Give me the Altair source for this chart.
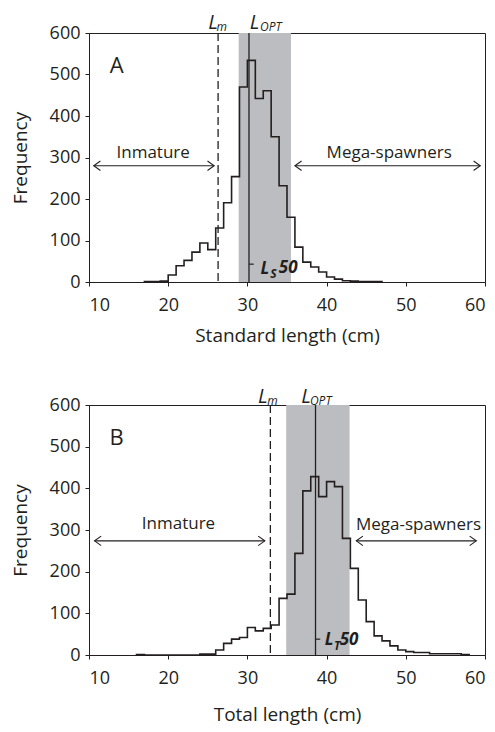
import altair as alt
import pandas as pd

FONT = "Open Sans"
INK = "#231f20"
BAND = "#bcbdc0"

# ---------------- Panel A (standard length, 1-cm bins: left edges) ----------------
A_BIN_START = list(range(17, 47))
A_COUNTS = [1, 1, 2, 17, 39, 52, 72, 94, 78, 130, 191, 254, 470, 534, 442,
            461, 350, 232, 156, 84, 48, 36, 24, 12, 7, 3, 2, 1, 1, 1]
A_LM = 26.3
A_LOPT = 30.2
A_OPT_RANGE = [28.9, 35.5]
A_ARROWS = [[10.6, 25.8, 280], [36.0, 59.4, 280]]
A_ARROW_TEXT = ["Inmature", "Mega-spawners"]
A_ARROW_TEXT_X = [18.1, 47.9]
A_ARROW_TEXT_Y = [298, 298]
A_TOP_TEXT = ["L", "m", "L", "OPT"]
A_TOP_X = [25.06, 26.1, 30.3, 31.6]
A_TOP_Y = [610, 606, 610, 606]
A_L50_TEXT = ["L", "S", "50"]
A_L50_X = [31.65, 32.9, 33.97]
A_L50_Y = [20, 9, 21]
A_L50_TICK = [30.2, 30.8, 43]
A_XTITLE = "Standard length (cm)"

# ---------------- Panel B (total length) ----------------
B_BIN_START = list(range(16, 58))
B_COUNTS = [1, 0, 0, 0, 0, 0, 0, 0, 2, 2, 12, 28, 38, 42, 66, 58, 64, 72,
            136, 146, 244, 394, 428, 380, 416, 404, 280, 208, 132, 80, 46,
            34, 22, 12, 8, 6, 6, 3, 3, 3, 3, 1]
B_LM = 32.9
B_LOPT = 38.6
B_OPT_RANGE = [34.9, 42.9]
B_ARROWS = [[10.7, 32.2, 274], [43.75, 58.9, 274]]
B_ARROW_TEXT = ["Inmature", "Mega-spawners"]
B_ARROW_TEXT_X = [21.3, 51.6]
B_ARROW_TEXT_Y = [302, 300]
B_TOP_TEXT = ["L", "m", "L", "OPT"]
B_TOP_X = [31.35, 32.5, 36.8, 37.9]
B_TOP_Y = [605, 601, 605, 601]
B_L50_TEXT = ["L", "T", "50"]
B_L50_X = [39.76, 40.93, 41.65]
B_L50_Y = [24, 12, 24]
B_L50_TICK = [38.6, 39.2, 38]
B_XTITLE = "Total length (cm)"

X_TICKS = [10, 20, 30, 40, 50, 60]
Y_TICKS = [0, 100, 200, 300, 400, 500, 600]


def panel(letter, starts, counts, lm, lopt, opt_range, arrows, arrow_text,
          arrow_tx, arrow_ty, top_text, top_x, top_y, l50_text, l50_x, l50_y,
          l50_tick, xtitle, height, xtitle_pad):
    xs = alt.Scale(domain=[10, 60], nice=False, zero=False)
    ys = alt.Scale(domain=[0, 600], nice=False)
    xax = alt.Axis(values=X_TICKS, title=xtitle, titlePadding=xtitle_pad)
    yax = alt.Axis(values=Y_TICKS, title="Frequency")

    band = alt.Chart(pd.DataFrame({"a": [opt_range[0]], "b": [opt_range[1]],
                                   "y0": [0], "y1": [600]})).mark_rect(
        color=BAND).encode(
        x=alt.X("a:Q", scale=xs, axis=xax),
        x2="b:Q",
        y=alt.Y("y0:Q", scale=ys, axis=yax),
        y2="y1:Q")

    lm_rule = alt.Chart(pd.DataFrame({"x": [lm]})).mark_rule(
        color=INK, strokeWidth=1.3, strokeDash=[8, 4]).encode(
        x=alt.X("x:Q", scale=xs), y=alt.value(0), y2=alt.value(height))
    lopt_rule = alt.Chart(pd.DataFrame({"x": [lopt]})).mark_rule(
        color=INK, strokeWidth=1.3).encode(
        x=alt.X("x:Q", scale=xs), y=alt.value(0), y2=alt.value(height))

    hx = [starts[0]] + list(starts) + [starts[-1] + 1]
    hy = [0] + list(counts) + [0]
    hist = alt.Chart(pd.DataFrame({"x": hx, "y": hy, "o": range(len(hx))})).mark_line(
        interpolate="step-after", color=INK, strokeWidth=1.6).encode(
        x=alt.X("x:Q", scale=xs), y=alt.Y("y:Q", scale=ys), order="o:Q")

    adf = pd.DataFrame(arrows, columns=["x1", "x2", "y"])
    arrow_line = alt.Chart(adf).mark_rule(color=INK, strokeWidth=1.1).encode(
        x=alt.X("x1:Q", scale=xs), x2="x2:Q", y=alt.Y("y:Q", scale=ys))
    head_l = alt.Chart(adf).mark_point(
        shape="M1.4,-1L0,0L1.4,1", filled=False, size=90, color=INK,
        strokeWidth=1.1, opacity=1).encode(
        x=alt.X("x1:Q", scale=xs), y=alt.Y("y:Q", scale=ys))
    head_r = alt.Chart(adf).mark_point(
        shape="M-1.4,-1L0,0L-1.4,1", filled=False, size=90, color=INK,
        strokeWidth=1.1, opacity=1).encode(
        x=alt.X("x2:Q", scale=xs), y=alt.Y("y:Q", scale=ys))

    atext = alt.Chart(pd.DataFrame({"t": arrow_text, "x": arrow_tx, "y": arrow_ty})).mark_text(
        font=FONT, fontSize=17, color=INK, align="center", baseline="alphabetic").encode(
        x=alt.X("x:Q", scale=xs), y=alt.Y("y:Q", scale=ys), text="t:N")

    letter_t = alt.Chart(pd.DataFrame({"t": [letter], "x": [13.5], "y": [521]})).mark_text(
        font=FONT, fontSize=22, color=INK, align="center", baseline="middle").encode(
        x=alt.X("x:Q", scale=xs), y=alt.Y("y:Q", scale=ys), text="t:N")

    big = alt.Chart(pd.DataFrame({"t": [top_text[0], top_text[2]],
                                  "x": [top_x[0], top_x[2]],
                                  "y": [top_y[0], top_y[2]]})).mark_text(
        font=FONT, fontSize=20, fontStyle="italic", color=INK, align="left",
        baseline="alphabetic").encode(
        x=alt.X("x:Q", scale=xs), y=alt.Y("y:Q", scale=ys), text="t:N")
    small = alt.Chart(pd.DataFrame({"t": [top_text[1], top_text[3]],
                                    "x": [top_x[1], top_x[3]],
                                    "y": [top_y[1], top_y[3]]})).mark_text(
        font=FONT, fontSize=12, fontStyle="italic", color=INK, align="left",
        baseline="alphabetic").encode(
        x=alt.X("x:Q", scale=xs), y=alt.Y("y:Q", scale=ys), text="t:N")

    l50_big = alt.Chart(pd.DataFrame({"t": [l50_text[0], l50_text[2]],
                                      "x": [l50_x[0], l50_x[2]],
                                      "y": [l50_y[0], l50_y[2]]})).mark_text(
        font=FONT, fontSize=17, fontStyle="italic", fontWeight="bold", color=INK,
        align="left", baseline="alphabetic").encode(
        x=alt.X("x:Q", scale=xs), y=alt.Y("y:Q", scale=ys), text="t:N")
    l50_small = alt.Chart(pd.DataFrame({"t": [l50_text[1]], "x": [l50_x[1]],
                                        "y": [l50_y[1]]})).mark_text(
        font=FONT, fontSize=12, fontStyle="italic", fontWeight="bold", color=INK,
        align="left", baseline="alphabetic").encode(
        x=alt.X("x:Q", scale=xs), y=alt.Y("y:Q", scale=ys), text="t:N")
    l50_dash = alt.Chart(pd.DataFrame({"a": [l50_tick[0]], "b": [l50_tick[1]],
                                       "y": [l50_tick[2]]})).mark_rule(
        color=INK, strokeWidth=1.2).encode(
        x=alt.X("a:Q", scale=xs), x2="b:Q", y=alt.Y("y:Q", scale=ys))

    return alt.layer(band, lm_rule, lopt_rule, hist, arrow_line, head_l, head_r,
                     atext, letter_t, big, small, l50_big, l50_small, l50_dash
                     ).properties(width=396, height=height)


pa = panel("A", A_BIN_START, A_COUNTS, A_LM, A_LOPT, A_OPT_RANGE, A_ARROWS,
           A_ARROW_TEXT, A_ARROW_TEXT_X, A_ARROW_TEXT_Y, A_TOP_TEXT, A_TOP_X,
           A_TOP_Y, A_L50_TEXT, A_L50_X, A_L50_Y, A_L50_TICK, A_XTITLE, 249, 12)
pb = panel("B", B_BIN_START, B_COUNTS, B_LM, B_LOPT, B_OPT_RANGE, B_ARROWS,
           B_ARROW_TEXT, B_ARROW_TEXT_X, B_ARROW_TEXT_Y, B_TOP_TEXT, B_TOP_X,
           B_TOP_Y, B_L50_TEXT, B_L50_X, B_L50_Y, B_L50_TICK, B_XTITLE, 250, 18)

chart = alt.vconcat(pa, pb, spacing=40).properties(
    padding={"left": 2, "top": 4, "right": 0, "bottom": 0},
    background="white",
).configure_view(
    stroke=INK, strokeWidth=1
).configure_axis(
    grid=False, domainColor=INK, tickColor=INK, labelColor=INK, titleColor=INK,
    labelFont=FONT, titleFont=FONT, labelFontSize=18, titleFontSize=19,
    titleFontWeight="normal", tickSize=4, domainWidth=1, tickWidth=1,
    labelPadding=5,
).configure_axisX(
    labelPadding=10
).configure_axisY(
    titlePadding=19
)

chart.save("out.html", embed_options={"renderer": "svg", "actions": False})
